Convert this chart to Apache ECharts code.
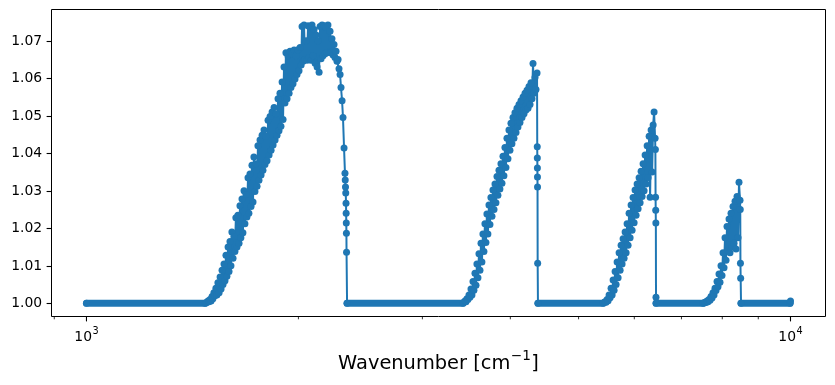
<!DOCTYPE html>
<html><head><meta charset="utf-8">
<script src="https://cdn.jsdelivr.net/npm/echarts@6/dist/echarts.min.js"></script>
<style>html,body{margin:0;padding:0;background:#fff}#c{width:835px;height:385px}</style>
</head><body><div id="c"></div>
<script>
// ---- data ----
const band1Wn = [
1473,1478,1483,1488,1493,1498,1503,1508,1512,1517,
1522,1527,1532,1537,1543,1548,1553,1558,1563,1568,
1573,1578,1583,1589,1594,1599,1604,1609,1615,1620,
1625,1630,1636,1641,1647,1652,1657,1663,1668,1674,
1679,1685,1690,1696,1701,1707,1713,1718,1724,1729,
1735,1741,1747,1752,1758,1764,1770,1776,1781,1787,
1793,1799,1805,1811,1817,1823,1829,1835,1841,1847,
1853,1859,1865,1871,1877,1883,1889,1896,1902,1908,
1914,1920,1927,1933,1940,1946,1952,1959,1965,1972,
1978,1985,1991,1998,2004,2011,2018,2024,2031,2037,
2044,2051,2057,2064,2070,2077,2084,2091,2098,2105,
2112,2119,2126,2133,2140,2147,2154,2161,2168,2175,
2182,2189,2196,2203,2211,2218,2225,2232,2240,2247,
2254,2262,2269,2277,2284,2292,2299,2307,2314,2322,
2329,2331,2333,2335,2337,2338,2339,2340,2341,2345];
const band1Val = [
1.0000,1.0001,1.0003,1.0006,1.0004,1.0010,1.0006,1.0018,1.0012,1.0028,
1.0020,1.0040,1.0022,1.0055,1.0028,1.0070,1.0038,1.0088,1.0050,1.0105,
1.0060,1.0128,1.0072,1.0150,1.0085,1.0165,1.0100,1.0190,1.0120,1.0178,
1.0138,1.0228,1.0150,1.0235,1.0160,1.0260,1.0175,1.0278,1.0188,1.0300,
1.0212,1.0290,1.0230,1.0335,1.0240,1.0345,1.0258,1.0368,1.0270,1.0390,
1.0298,1.0372,1.0312,1.0420,1.0328,1.0435,1.0342,1.0448,1.0355,1.0462,
1.0370,1.0445,1.0380,1.0488,1.0395,1.0498,1.0408,1.0510,1.0422,1.0522,
1.0435,1.0505,1.0448,1.0545,1.0460,1.0560,1.0472,1.0590,1.0490,1.0630,
1.0534,1.0668,1.0545,1.0660,1.0560,1.0672,1.0575,1.0665,1.0585,1.0675,
1.0598,1.0660,1.0610,1.0676,1.0620,1.0682,1.0635,1.0738,1.0645,1.0742,
1.0650,1.0700,1.0648,1.0740,1.0655,1.0735,1.0648,1.0742,1.0660,1.0730,
1.0640,1.0715,1.0630,1.0700,1.0616,1.0738,1.0652,1.0742,1.0660,1.0740,
1.0665,1.0735,1.0668,1.0742,1.0670,1.0725,1.0668,1.0705,1.0662,1.0690,
1.0655,1.0672,1.0645,1.0650,1.0625,1.0610,1.0575,1.0540,1.0495,1.0414,
1.0347,1.0329,1.0310,1.0294,1.0267,1.0240,1.0214,1.0187,1.0136,1.0000];

const band2Wn = [
3426,3437,3448,3460,3471,3482,3494,3505,3517,3528,
3540,3551,3563,3575,3586,3598,3610,3622,3634,3645,
3657,3669,3681,3693,3705,3717,3730,3742,3754,3767,
3779,3792,3804,3816,3829,3841,3854,3866,3879,3892,
3905,3917,3930,3943,3956,3969,3982,3995,4008,4021,
4035,4048,4061,4075,4088,4101,4115,4128,4142,4156,
4170,4183,4197,4210,4224,4238,4252,4266,4280,4294,
4308,4322,4336,4350,4365,4368,4369,4370,4371,4372,
4374,4378];
const band2Val = [
1.0000,1.0003,1.0006,1.0004,1.0012,1.0010,1.0022,1.0016,1.0038,1.0022,
1.0058,1.0035,1.0080,1.0048,1.0105,1.0068,1.0132,1.0088,1.0160,1.0110,
1.0185,1.0138,1.0212,1.0162,1.0238,1.0185,1.0262,1.0210,1.0282,1.0232,
1.0302,1.0250,1.0318,1.0268,1.0338,1.0288,1.0355,1.0305,1.0372,1.0320,
1.0392,1.0340,1.0415,1.0362,1.0440,1.0385,1.0462,1.0408,1.0480,1.0425,
1.0495,1.0440,1.0508,1.0455,1.0520,1.0470,1.0530,1.0482,1.0540,1.0495,
1.0550,1.0505,1.0560,1.0515,1.0568,1.0520,1.0578,1.0530,1.0588,1.0545,
1.0639,1.0560,1.0602,1.0570,1.0614,1.0417,1.0387,1.0361,1.0337,1.0310,
1.0107,1.0000];

const band3Wn = [
5418,5436,5453,5471,5489,5507,5525,5543,5561,5580,
5598,5616,5635,5653,5672,5690,5709,5728,5746,5765,
5784,5803,5822,5841,5860,5879,5898,5918,5937,5957,
5976,5996,6015,6035,6055,6075,6095,6115,6135,6155,
6175,6195,6216,6236,6257,6277,6298,6318,6339,6360,
6381,6401,6422,6428,6432,6435,6438,6441,6443];
const band3Val = [
1.0000,1.0002,1.0004,1.0003,1.0010,1.0007,1.0022,1.0015,1.0040,1.0022,
1.0062,1.0035,1.0085,1.0050,1.0110,1.0068,1.0135,1.0088,1.0155,1.0105,
1.0172,1.0120,1.0190,1.0135,1.0212,1.0155,1.0240,1.0175,1.0262,1.0195,
1.0282,1.0215,1.0302,1.0235,1.0318,1.0252,1.0335,1.0268,1.0352,1.0285,
1.0372,1.0300,1.0395,1.0318,1.0420,1.0335,1.0445,1.0283,1.0462,1.0350,
1.0475,1.0510,1.0440,1.0410,1.0283,1.0248,1.0214,1.0016,1.0000];

const band4Wn = [
7512,7537,7561,7586,7611,7636,7661,7686,7711,7736,
7761,7787,7812,7838,7864,7889,7915,7941,7967,7993,
8020,8046,8072,8099,8125,8152,8179,8205,8232,8259,
8286,8313,8341,8368,8395,8423,8450,8478,8485,8490,
8496,8506];
const band4Val = [
1.0000,1.0001,1.0003,1.0002,1.0006,1.0004,1.0010,1.0008,1.0018,1.0014,
1.0028,1.0022,1.0040,1.0034,1.0058,1.0044,1.0078,1.0056,1.0100,1.0074,
1.0135,1.0095,1.0175,1.0115,1.0205,1.0140,1.0225,1.0135,1.0240,1.0150,
1.0258,1.0160,1.0272,1.0145,1.0285,1.0175,1.0323,1.0275,1.0250,1.0107,
1.0067,1.0000];

const startWn = [1000];
const startVal = [1.0000];
const endWn = [9985, 10000];
const endVal = [1.0000, 1.0006];

const xMajorTicks = [1000, 10000];
const xMajorExp = ['3', '4'];
const xMinorTicks = [900, 2000, 3000, 4000, 5000, 6000, 7000, 8000, 9000];
const yTicks = [1.00, 1.01, 1.02, 1.03, 1.04, 1.05, 1.06, 1.07];
const yTickLabels = ['1.00', '1.01', '1.02', '1.03', '1.04', '1.05', '1.06', '1.07'];
const xTitle = ['Wavenumber [cm', '\u22121', ']'];

// ---- build ----
const wn = [].concat(startWn, band1Wn, band2Wn, band3Wn, band4Wn, endWn);
const val = [].concat(startVal, band1Val, band2Val, band3Val, band4Val, endVal);
const pts = wn.map((w, i) => [w, val[i]]);

const COLOR = '#1f77b4';
const FONT = '"DejaVu Sans", sans-serif';
const series = [];
// flat runs: consecutive points both at 1.0 drawn as a dense marker row
for (let i = 0; i + 1 < wn.length; i++) {
  if (val[i] === 1 && val[i + 1] === 1) {
    series.push({ type: 'line', data: [[wn[i], 1], [wn[i + 1], 1]], symbol: 'none', silent: true,
      lineStyle: { color: COLOR, width: 7, cap: 'round' }, z: 2, animation: false });
  }
}
series.push({ type: 'line', data: pts, symbol: 'circle', symbolSize: 7, showSymbol: true, showAllSymbol: true,
  itemStyle: { color: COLOR, borderWidth: 0 }, lineStyle: { color: COLOR, width: 2 }, silent: true, z: 3, animation: false });

const L = 51.5, T = 9.5, R = 825.5, B = 316.5;
const chart = echarts.init(document.getElementById('c'), null, { renderer: 'canvas' });
chart.setOption({
  animation: false,
  backgroundColor: '#fff',
  grid: { left: L, top: T, right: 835 - R, bottom: 385 - B, show: true, borderColor: '#000', borderWidth: 1, backgroundColor: 'transparent' },
  xAxis: { type: 'log', logBase: 10, min: 891.9, max: 11213, axisLine: { show: false }, axisTick: { show: false }, axisLabel: { show: false }, splitLine: { show: false } },
  yAxis: { type: 'value', min: 0.99648, max: 1.07832, axisLine: { show: false }, axisTick: { show: false }, axisLabel: { show: false }, splitLine: { show: false } },
  series: series
});

const ctx = document.createElement('canvas').getContext('2d');
function tw(t, size) { ctx.font = size + 'px "DejaVu Sans"'; return ctx.measureText(t).width; }
const g = [];
function line(x1, y1, x2, y2, w) { g.push({ type: 'line', shape: { x1, y1, x2, y2 }, style: { stroke: '#000', lineWidth: w }, silent: true, z: 10 }); }
function text(t, x, y, size, align, va) { g.push({ type: 'text', x, y, style: { text: t, fill: '#000', fontSize: size, fontFamily: FONT, align, verticalAlign: va }, silent: true, z: 10 }); }

yTicks.forEach((v, i) => {
  const py = Math.round(chart.convertToPixel({ gridIndex: 0 }, [1000, v])[1]) + 0.5;
  line(L - 4.9, py, L, py, 1.1);
  text(yTickLabels[i], L - 9.3, py, 13.9, 'right', 'middle');
});
xMinorTicks.forEach(v => {
  const px = chart.convertToPixel({ gridIndex: 0 }, [v, 1])[0];
  line(px, B, px, B + 2.8, 0.8);
});
xMajorTicks.forEach((v, i) => {
  const px = chart.convertToPixel({ gridIndex: 0 }, [v, 1])[0];
  line(px, B, px, B + 4.9, 1.1);
  const w1 = tw('10', 13.9), w2 = tw(xMajorExp[i], 9.7);
  const x0 = px - (w1 + w2 + 0.5) / 2;
  text('10', x0, 337.5, 13.9, 'left', 'middle');
  text(xMajorExp[i], x0 + w1 + 0.5, 331, 9.7, 'left', 'middle');
});
{
  const cx = (L + R) / 2;
  const a = tw(xTitle[0], 19.4), b = tw(xTitle[1], 13.6), c = tw(xTitle[2], 19.4);
  const x0 = cx - (a + b + c + 1) / 2;
  text(xTitle[0], x0, 364, 19.4, 'left', 'middle');
  text(xTitle[1], x0 + a + 0.5, 356, 13.6, 'left', 'middle');
  text(xTitle[2], x0 + a + b + 1, 364, 19.4, 'left', 'middle');
}
chart.setOption({ graphic: { elements: g } });
</script></body></html>
